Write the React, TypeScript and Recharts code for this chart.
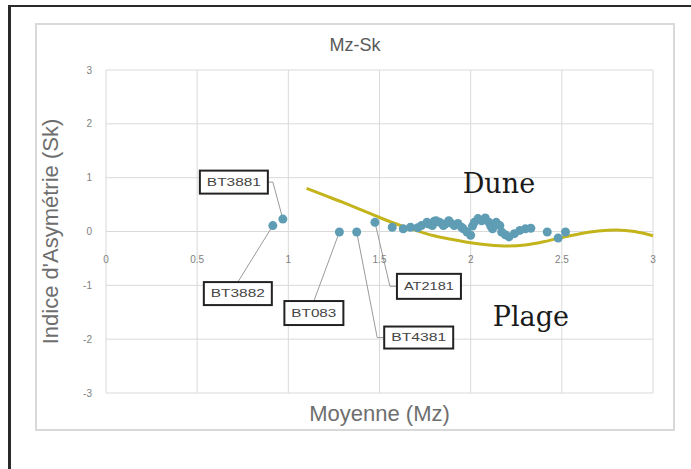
import React from 'react'
import { ComposedChart, Line, Scatter, XAxis, YAxis, CartesianGrid, ReferenceDot } from 'recharts'

// Mz / Sk des échantillons
const samples = [
  { mz: 1.57, sk: 0.08 }, { mz: 1.63, sk: 0.05 }, { mz: 1.67, sk: 0.08 }, { mz: 1.71, sk: 0.07 },
  { mz: 1.73, sk: 0.11 }, { mz: 1.76, sk: 0.17 }, { mz: 1.77, sk: 0.14 }, { mz: 1.79, sk: 0.11 },
  { mz: 1.8, sk: 0.19 }, { mz: 1.81, sk: 0.2 }, { mz: 1.83, sk: 0.17 }, { mz: 1.85, sk: 0.11 },
  { mz: 1.86, sk: 0.14 }, { mz: 1.88, sk: 0.2 }, { mz: 1.89, sk: 0.16 }, { mz: 1.91, sk: 0.11 },
  { mz: 1.93, sk: 0.15 }, { mz: 1.95, sk: 0.08 }, { mz: 1.96, sk: 0.05 }, { mz: 1.98, sk: -0.01 },
  { mz: 2.0, sk: -0.07 }, { mz: 2.01, sk: 0.1 }, { mz: 2.02, sk: 0.17 }, { mz: 2.04, sk: 0.24 },
  { mz: 2.06, sk: 0.2 }, { mz: 2.08, sk: 0.25 }, { mz: 2.1, sk: 0.17 }, { mz: 2.11, sk: 0.1 },
  { mz: 2.12, sk: 0.05 }, { mz: 2.14, sk: 0.17 }, { mz: 2.16, sk: 0.11 }, { mz: 2.17, sk: -0.01 },
  { mz: 2.19, sk: -0.06 }, { mz: 2.21, sk: -0.1 }, { mz: 2.24, sk: -0.04 }, { mz: 2.27, sk: 0.02 },
  { mz: 2.3, sk: 0.05 }, { mz: 2.33, sk: 0.06 }, { mz: 2.42, sk: -0.01 }, { mz: 2.48, sk: -0.12 },
  { mz: 2.52, sk: -0.01 },
]

// échantillons étiquetés
const labeled = [
  { name: 'BT3881', mz: 0.97, sk: 0.23 },
  { name: 'BT3882', mz: 0.915, sk: 0.11 },
  { name: 'BT083', mz: 1.28, sk: -0.01 },
  { name: 'BT4381', mz: 1.375, sk: -0.01 },
  { name: 'AT2181', mz: 1.475, sk: 0.17 },
]

// courbe de tendance (polynomiale)
const trend = [
  { mz: 1.1, sk: 0.8 }, { mz: 1.2, sk: 0.67 }, { mz: 1.3, sk: 0.54 }, { mz: 1.4, sk: 0.4 },
  { mz: 1.5, sk: 0.26 }, { mz: 1.6, sk: 0.13 }, { mz: 1.7, sk: 0.02 }, { mz: 1.8, sk: -0.08 },
  { mz: 1.9, sk: -0.15 }, { mz: 2.0, sk: -0.21 }, { mz: 2.1, sk: -0.25 }, { mz: 2.2, sk: -0.27 },
  { mz: 2.3, sk: -0.25 }, { mz: 2.4, sk: -0.19 }, { mz: 2.5, sk: -0.11 }, { mz: 2.6, sk: -0.04 },
  { mz: 2.7, sk: 0.01 }, { mz: 2.8, sk: 0.03 }, { mz: 2.9, sk: 0.0 }, { mz: 3.0, sk: -0.08 },
]

const xTicks = [0, 0.5, 1, 1.5, 2, 2.5, 3]
const yTicks = [-3, -2, -1, 0, 1, 2, 3]

// placement des étiquettes (pixels par rapport au point)
const calloutPos: Record<string, { dx: number; dy: number; w: number; h: number; side: string }> = {
  BT3881: { dx: -49, dy: -37, w: 68, h: 23, side: 'right' },
  BT3882: { dx: -35, dy: 68, w: 68, h: 23, side: 'top' },
  BT083: { dx: -25.5, dy: 81, w: 59, h: 24, side: 'top' },
  BT4381: { dx: 62, dy: 105.5, w: 69, h: 22, side: 'left' },
  AT2181: { dx: 54, dy: 64, w: 64, h: 25, side: 'left' },
}

const W = 636
const H = 404
const margin = { top: 45, right: 20, bottom: 6, left: 0 }
const X_AXIS_H = 30
const PLOT_H = H - margin.top - margin.bottom - X_AXIS_H
const DOT = '#5f9db5'
const TREND = '#c4b41c'
const GREY = '#6e6e6e'

const Dot = (p: any) => <circle cx={p.cx} cy={p.cy} r={4.5} fill={DOT} />

function Callout(p: any) {
  const { cx, cy, payload } = p
  const pos = calloutPos[payload.name]
  const bx = cx + pos.dx
  const by = cy + pos.dy
  let d = ''
  if (pos.side === 'top') d = `M${bx},${by - pos.h / 2}L${cx},${cy}`
  else if (pos.side === 'left') d = `M${bx - pos.w / 2},${by}L${bx - pos.w / 2 - 7},${by}L${cx},${cy}`
  else d = `M${bx + pos.w / 2},${by}L${bx + pos.w / 2 + 5},${by}L${cx},${cy}`
  return (
    <g>
      <path d={d} stroke="#9a9a9a" strokeWidth={1} fill="none" />
      <rect x={bx - pos.w / 2} y={by - pos.h / 2} width={pos.w} height={pos.h} fill="#fff" stroke="#222" strokeWidth={2} />
      <text x={bx} y={by + 3.5} textAnchor="middle" fontSize={10} fill="#444"
        textLength={pos.w - 14} lengthAdjust="spacingAndGlyphs" fontFamily="Liberation Sans">{payload.name}</text>
      <circle cx={cx} cy={cy} r={4.5} fill={DOT} />
    </g>
  )
}

function XTick(p: any) {
  const { x, y, payload } = p
  return (
    <text x={x} y={y - 2 - PLOT_H / 2 + 25} textAnchor="middle" fontSize={10} fill="#808080" fontFamily="Liberation Sans">
      {payload.value}
    </text>
  )
}

const zoneLabel = (text: string) => (props: any) => {
  const { viewBox } = props
  return (
    <text x={viewBox.x} y={viewBox.y + 9} textAnchor="middle" fontSize={27} fill="#1a1a1a" fontFamily="DejaVu Serif">
      {text}
    </text>
  )
}

export default function App() {
  return (
    <div style={{ position: 'relative', width: 683, height: 461, fontFamily: 'Liberation Sans' }}>
      <div style={{ position: 'fixed', left: 8, top: 5, width: 683, height: 2, background: '#2a2a2a' }} />
      <div style={{ position: 'fixed', left: 8, top: 5, width: 3, height: 464, background: '#2a2a2a' }} />
      <div style={{ position: 'absolute', left: 27, top: 15, width: 640, height: 408, border: '2px solid #d9d9d9', boxSizing: 'border-box', background: '#fff' }}>
        <div style={{ position: 'absolute', left: 0, top: 9, width: '100%', textAlign: 'center', fontSize: 18, lineHeight: '22px', color: '#595959' }}>Mz-Sk</div>
        <ComposedChart width={W} height={H} margin={margin}>
          <CartesianGrid stroke="#d9d9d9" />
          <XAxis type="number" dataKey="mz" domain={[0, 3]} ticks={xTicks} height={X_AXIS_H}
            axisLine={false} tickLine={false} tick={<XTick />} interval={0}
            label={{ value: 'Moyenne (Mz)', position: 'insideTop', offset: 12, fontSize: 22, fill: GREY }} />
          <YAxis type="number" dataKey="sk" domain={[-3, 3]} ticks={yTicks} width={69}
            axisLine={false} tickLine={false} tickSize={0} tickMargin={14} interval={0}
            tick={{ fontSize: 10, fill: '#808080' }}
            label={{ value: "Indice d'Asymétrie (Sk)", angle: -90, position: 'insideLeft', offset: 13, fontSize: 22, fill: GREY, style: { textAnchor: 'middle' } }} />
          <Line data={trend} dataKey="sk" type="monotone" stroke={TREND} strokeWidth={3} dot={false} isAnimationActive={false} />
          <Scatter data={samples} dataKey="sk" shape={<Dot />} isAnimationActive={false} />
          <Scatter data={labeled} dataKey="sk" shape={<Callout />} isAnimationActive={false} />
          <ReferenceDot x={2.155} y={0.89} r={0} stroke="none" label={zoneLabel('Dune')} />
          <ReferenceDot x={2.33} y={-1.59} r={0} stroke="none" label={zoneLabel('Plage')} />
        </ComposedChart>
      </div>
    </div>
  )
}
